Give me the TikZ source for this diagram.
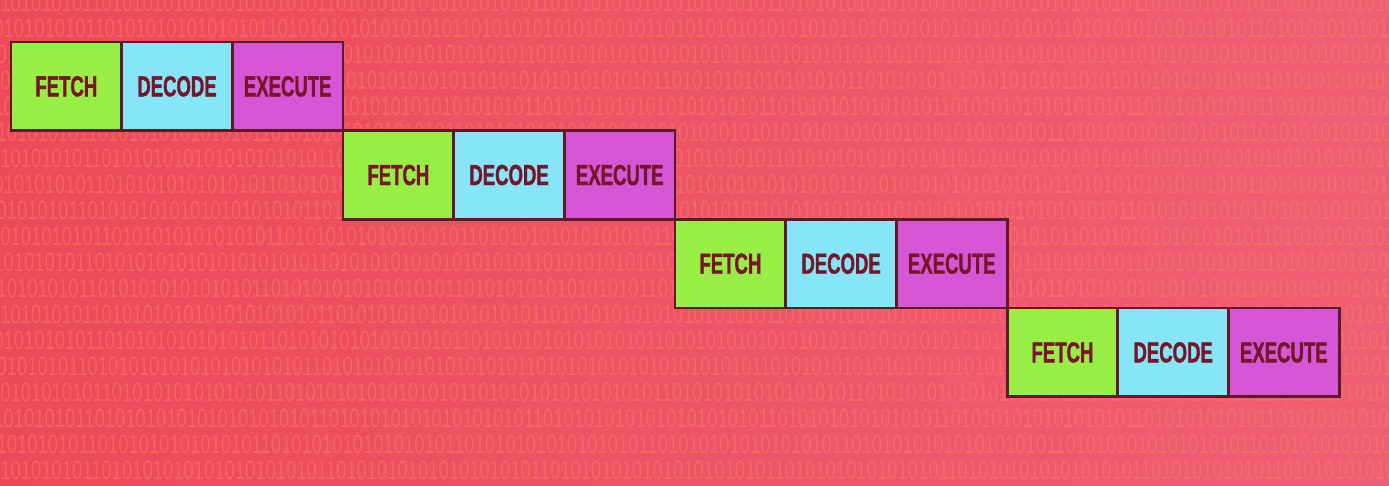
\documentclass[tikz,border=0pt]{standalone}
\usepackage{fontspec}
\newfontfamily\stagefont[FakeStretch=0.64, FakeBold=1.2]{Liberation Sans}
\newfontfamily\bitfont[FakeStretch=0.7]{Liberation Sans}
\usetikzlibrary{positioning}
\definecolor{bgred}{HTML}{EC4A5A}
\definecolor{bgpink}{HTML}{F05E76}
\definecolor{bitcol}{HTML}{F8805C}
\definecolor{fetchgreen}{HTML}{98EE45}
\definecolor{decodeblue}{HTML}{86E6F8}
\definecolor{execmagenta}{HTML}{D656D6}
\definecolor{edge}{HTML}{5E1A24}
\definecolor{ink}{HTML}{761628}
\tikzset{
  stage/.style={draw=edge, line width=1.6pt, minimum width=2.214cm, minimum height=1.774cm, inner sep=0pt, outer sep=0pt, text=ink, font=\stagefont\bfseries\fontsize{16.5}{16.5}\selectfont},
  bits/.style={anchor=west, inner sep=0pt, text=bitcol, text opacity=0.5, font=\bitfont\fontsize{15}{15}\selectfont},
}
\def\bitsA{0101010101101010101010101011010101010101010101101010101010101010110101010101010101011010101010101010101011010101010101010101101010101010101}
\def\bitsB{1010101011010101010101010101010110101010101010101010110101010101010101010101101010101010101011010101010101010101101010101010110101010101010}

\begin{document}
\begin{tikzpicture}[x=0.02cm,y=-0.02cm]
        \useasboundingbox (0,0) rectangle (1389,485);
        \shade[left color=bgred, right color=bgpink] (0,0) rectangle (1389,485);
        % binary backdrop
        \begin{scope}
          \clip (0,0) rectangle (1389,485);
          \foreach \r in {0,...,18} {
            \pgfmathsetmacro{\yy}{2+26*\r}
            \pgfmathsetmacro{\xx}{-mod(\r*7,21)}
            \node[bits] (bits\r) at (\xx,\yy) {\ifodd\r\relax\bitsA\else\bitsB\fi};
          }
        \end{scope}
        % pipeline stages
        \node[stage, fill=fetchgreen, anchor=north west] (fetch1) at (11,42) {FETCH};
        \node[stage, fill=decodeblue, right=0pt of fetch1] (decode1) {DECODE};
        \node[stage, fill=execmagenta, right=0pt of decode1] (execute1) {EXECUTE};
        \foreach \i in {2,3,4} {
          \pgfmathtruncatemacro{\prev}{\i-1}
          \node[stage, fill=fetchgreen, anchor=north west] (fetch\i) at (execute\prev.south east) {FETCH};
          \node[stage, fill=decodeblue, right=0pt of fetch\i] (decode\i) {DECODE};
          \node[stage, fill=execmagenta, right=0pt of decode\i] (execute\i) {EXECUTE};
        }
      \end{tikzpicture}
\end{document}
